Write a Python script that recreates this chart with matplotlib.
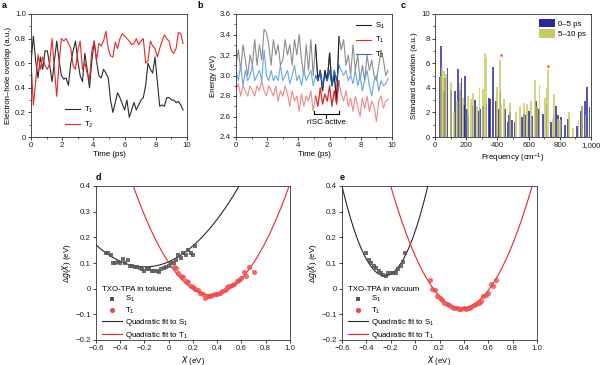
import numpy as np
import matplotlib
matplotlib.use("Agg")
import matplotlib.pyplot as plt
from matplotlib.ticker import MultipleLocator, FuncFormatter

FS = 5.7
plt.rcParams['font.family'] = ['Liberation Sans', 'DejaVu Sans']
plt.rcParams['mathtext.default'] = 'regular'
plt.rcParams['font.size'] = FS
plt.rcParams['axes.linewidth'] = 0.6
plt.rcParams['xtick.major.width'] = 0.6
plt.rcParams['ytick.major.width'] = 0.6
plt.rcParams['xtick.major.size'] = 2.2
plt.rcParams['ytick.major.size'] = 2.2
plt.rcParams['xtick.minor.size'] = 1.3
plt.rcParams['ytick.minor.size'] = 1.3
plt.rcParams['xtick.minor.width'] = 0.5
plt.rcParams['ytick.minor.width'] = 0.5
plt.rcParams['xtick.major.pad'] = 1.5
plt.rcParams['ytick.major.pad'] = 1.5

# ---------------- data ----------------
# panel a (time step 0.15 ps)
a_dt = 0.15
a_T1 = [0.60, 0.82, 0.62, 0.48, 0.65, 0.55, 0.70, 0.70, 0.58, 0.45, 0.62, 0.78, 0.62, 0.50,
        0.47, 0.48, 0.42, 0.60, 0.70, 0.78, 0.62, 0.50, 0.45, 0.68, 0.55, 0.40, 0.62, 0.78,
        0.62, 0.50, 0.48, 0.55, 0.52, 0.48, 0.30, 0.20, 0.28, 0.36, 0.32, 0.27, 0.22, 0.30,
        0.16, 0.22, 0.28, 0.22, 0.26, 0.30, 0.32, 0.42, 0.60, 0.55, 0.52, 0.65, 0.45, 0.25,
        0.26, 0.25, 0.32, 0.32, 0.30, 0.30, 0.28, 0.29, 0.26, 0.22]
a_T2 = [0.62, 0.26, 0.45, 0.67, 0.55, 0.65, 0.58, 0.55, 0.60, 0.80, 0.55, 0.33, 0.60, 0.80,
        0.78, 0.80, 0.76, 0.72, 0.58, 0.55, 0.70, 0.78, 0.55, 0.60, 0.52, 0.47, 0.70, 0.78,
        0.62, 0.76, 0.74, 0.78, 0.86, 0.72, 0.66, 0.65, 0.77, 0.72, 0.80, 0.84, 0.82, 0.80,
        0.78, 0.75, 0.76, 0.80, 0.75, 0.78, 0.80, 0.60, 0.62, 0.78, 0.74, 0.72, 0.65, 0.72,
        0.78, 0.83, 0.80, 0.78, 0.70, 0.68, 0.72, 0.85, 0.84, 0.76]

# panel b (time step 0.15 ps)
b_dt = 0.15
b_S1 = [3.10, 3.25, 3.05, 3.30, 3.15, 3.00, 3.20, 3.10, 3.35, 3.10, 3.30, 3.15, 3.45, 3.42,
        3.30, 3.10, 3.35, 3.20, 3.30, 3.10, 3.15, 3.35, 3.20, 3.30, 3.10, 3.35, 3.20, 3.40,
        3.15, 3.00, 3.30, 3.05, 3.35, 3.00, 3.30, 2.95, 3.05, 2.85, 3.05, 2.95, 3.22, 2.90,
        3.00, 2.75, 3.38, 3.25, 3.35, 3.10, 3.20, 3.00, 3.30, 3.05, 3.20, 2.95, 3.10, 2.95,
        3.20, 3.05, 3.15, 3.00, 2.95, 3.10, 3.25, 3.15, 3.00, 3.05]
b_T2 = [3.05, 2.95, 3.10, 2.90, 3.05, 2.95, 3.00, 3.10, 2.95, 3.00, 3.05, 2.95, 3.25, 3.00,
        2.95, 3.05, 2.95, 3.00, 2.95, 3.10, 2.95, 3.00, 3.05, 2.92, 3.00, 3.10, 2.95, 3.00,
        2.90, 3.05, 2.95, 3.00, 3.05, 2.90, 3.00, 2.95, 3.05, 2.90, 3.00, 2.95, 3.05, 2.90,
        3.05, 2.95, 3.10, 3.05, 3.00, 3.05, 2.95, 3.00, 2.92, 3.05, 2.90, 3.00, 2.85, 2.95,
        3.05, 2.90, 2.80, 2.95, 3.00, 2.85, 2.95, 2.90, 2.92, 2.97]
b_T1 = [2.85, 2.92, 2.80, 2.90, 2.85, 2.80, 2.90, 2.85, 2.80, 2.90, 2.85, 2.95, 2.85, 2.80,
        2.90, 2.85, 2.80, 2.90, 2.75, 2.85, 2.80, 2.90, 2.82, 2.70, 2.85, 2.75, 2.80, 2.65,
        2.82, 2.70, 2.80, 2.75, 2.85, 2.65, 2.80, 2.70, 2.88, 2.72, 2.82, 2.75, 2.90, 2.70,
        2.85, 2.72, 2.95, 2.82, 2.75, 2.85, 2.70, 2.78, 2.65, 2.80, 2.70, 2.60, 2.78, 2.68,
        2.80, 2.65, 2.75, 2.70, 2.55, 2.75, 2.80, 2.68, 2.75, 2.77]
b_active = [5.0, 6.6]

# panel c
c_freq_early = [30, 40, 55, 62, 80, 100, 130, 145, 160, 170, 185, 195, 205, 215, 240, 255, 280,
                290, 310, 330, 345, 355, 370, 390, 405, 412, 420, 450, 465, 472, 480, 495, 510,
                555, 570, 580, 600, 620, 645, 652, 665, 690, 715, 745, 760, 775, 790, 805, 835,
                850, 910, 935, 945, 960, 975, 990]
c_std_early = [4.9, 7.4, 3.7, 4.8, 5.6, 3.7, 3.7, 5.5, 3.8, 4.8, 2.6, 5.0, 2.3, 1.8, 2.5, 3.0,
               2.1, 2.3, 2.5, 2.8, 3.2, 3.1, 5.7, 2.9, 0.1, 2.3, 3.7, 2.3, 1.2, 1.8, 2.0, 1.4,
               1.2, 1.6, 1.9, 1.8, 2.1, 1.7, 2.9, 2.4, 2.3, 1.9, 2.6, 1.2, 1.7, 2.5, 1.8, 1.6,
               1.0, 1.5, 0.9, 2.1, 2.5, 2.9, 4.1, 2.4]
c_freq_late = [35, 45, 60, 70, 100, 120, 140, 160, 180, 210, 230, 245, 270, 285, 310, 320, 330,
               400, 415, 425, 440, 480, 520, 545, 570, 590, 615, 640, 655, 670, 705, 715, 725,
               755, 765, 790, 800, 860, 885, 920, 945, 965]
c_std_late = [5.0, 5.7, 5.4, 5.1, 4.5, 2.0, 2.9, 4.4, 3.2, 3.3, 3.1, 3.6, 2.5, 4.0, 3.9, 6.8,
              6.5, 4.1, 6.3, 2.6, 3.1, 2.8, 2.0, 2.5, 2.8, 2.7, 2.9, 4.6, 2.4, 4.2, 3.2, 4.0,
              5.5, 1.5, 3.5, 1.5, 1.4, 2.0, 0.7, 1.4, 2.5, 1.8]
c_star_x = [420, 725]
c_star_y = [6.7, 5.8]

# panel d (toluene)
d_S1_x = [-0.52, -0.50, -0.48, -0.46, -0.44, -0.42, -0.40, -0.38, -0.36, -0.34, -0.32, -0.30,
          -0.28, -0.26, -0.24, -0.22, -0.20, -0.18, -0.16, -0.14, -0.12, -0.10, -0.08, -0.06,
          -0.04, -0.02, 0.00, 0.02, 0.04, 0.06, 0.08, 0.10, 0.12, 0.14, 0.16, 0.18, 0.20, 0.22]
d_S1_y = [0.14, 0.14, 0.13, 0.10, 0.10, 0.105, 0.10, 0.115, 0.10, 0.11, 0.09, 0.09, 0.085,
          0.085, 0.08, 0.075, 0.07, 0.075, 0.075, 0.07, 0.07, 0.07, 0.065, 0.075, 0.08, 0.085,
          0.09, 0.10, 0.10, 0.11, 0.13, 0.12, 0.14, 0.13, 0.15, 0.14, 0.13, 0.165]
d_T1_x = [0.04, 0.06, 0.08, 0.10, 0.12, 0.14, 0.16, 0.18, 0.20, 0.22, 0.24, 0.26, 0.28, 0.30,
          0.32, 0.34, 0.36, 0.38, 0.40, 0.42, 0.44, 0.46, 0.48, 0.50, 0.52, 0.54, 0.56, 0.58,
          0.60, 0.62, 0.64, 0.66, 0.70]
d_T1_y = [0.085, 0.08, 0.06, 0.05, 0.045, 0.03, 0.025, 0.01, 0.005, 0.0, -0.005, -0.015, -0.02,
          -0.035, -0.03, -0.03, -0.025, -0.02, -0.02, -0.015, -0.01, -0.005, 0.005, 0.01, 0.015,
          0.02, 0.03, 0.035, 0.04, 0.065, 0.05, 0.085, 0.065]
# quadratic fit coefficients (a, b, c) for a*x^2 + b*x + c
d_fit_S1 = [0.523, 0.205, 0.105]
d_fit_T1 = [1.028, -0.7196, 0.1009]

# panel e (vacuum)
e_S1_x = [-0.40, -0.38, -0.36, -0.34, -0.32, -0.30, -0.28, -0.26, -0.24, -0.22, -0.20, -0.18,
          -0.16, -0.14, -0.12, -0.10, -0.08]
e_S1_y = [0.14, 0.11, 0.10, 0.09, 0.08, 0.07, 0.06, 0.055, 0.05, 0.06, 0.06, 0.06, 0.06, 0.075,
          0.09, 0.105, 0.14]
e_T1_x = [0.12, 0.14, 0.16, 0.18, 0.20, 0.22, 0.24, 0.26, 0.28, 0.30, 0.32, 0.34, 0.36, 0.38,
          0.40, 0.42, 0.44, 0.46, 0.48, 0.50, 0.52, 0.54, 0.56, 0.58, 0.60, 0.62, 0.64, 0.66]
e_T1_y = [0.035, 0.0, -0.005, -0.03, -0.035, -0.045, -0.055, -0.06, -0.065, -0.07, -0.075,
          -0.075, -0.078, -0.078, -0.075, -0.078, -0.075, -0.07, -0.065, -0.06, -0.055, -0.05,
          -0.03, -0.025, -0.015, 0.02, 0.01, 0.035]
e_fit_S1 = [2.82, 1.399, 0.2235]
e_fit_T1 = [1.41, -1.0716, 0.1286]

# ---------------- figure ----------------
fig = plt.figure(figsize=(6.0, 3.65), dpi=100)
W, H = 600, 365

def ax_px(x0, x1, y0, y1):
    return fig.add_axes([x0 / W, 1 - y1 / H, (x1 - x0) / W, (y1 - y0) / H])

def style(ax):
    for s in ax.spines.values():
        s.set_color('#333333')
        s.set_linewidth(0.6)
    ax.tick_params(direction='out', which='both', colors='#222222', labelsize=FS)

RED = '#e8262a'
BLK = '#2a2a2a'

# ---- a ----
ax = ax_px(31, 187, 14, 137)
style(ax)
ta = np.arange(len(a_T1)) * a_dt
ax.plot(ta, a_T1, color=BLK, lw=0.8, label='T$_1$')
ax.plot(ta, a_T2, color=RED, lw=0.8, label='T$_2$')
ax.set_xlim(0, 10)
ax.set_ylim(0, 1.0)
ax.xaxis.set_major_locator(MultipleLocator(2))
ax.xaxis.set_minor_locator(MultipleLocator(1))
ax.yaxis.set_major_locator(MultipleLocator(0.2))
ax.yaxis.set_minor_locator(MultipleLocator(0.1))
ax.yaxis.set_major_formatter(FuncFormatter(lambda v, p: '0' if abs(v) < 1e-9 else f'{v:.1f}'))
ax.set_xlabel('Time (ps)', labelpad=1.5)
ax.set_ylabel('Electron–hole overlap (a.u.)', labelpad=2)
ax.legend(loc='lower left', bbox_to_anchor=(0.17, 0.0), frameon=False, fontsize=FS,
          handlelength=1.9, handletextpad=0.5, labelspacing=0.6)

# ---- b ----
ax = ax_px(236, 392, 14, 137)
style(ax)
tb = np.arange(len(b_S1)) * b_dt
m = (tb >= b_active[0] - 0.01) & (tb <= b_active[1] + 0.01)
ax.plot(tb, b_S1, color='#8c8c8c', lw=0.8)
ax.plot(tb, b_T1, color='#f08a8a', lw=0.8)
ax.plot(tb, b_T2, color='#6aa6e6', lw=0.8)
ax.plot(tb[m], np.array(b_S1)[m], color='#222222', lw=0.8)
ax.plot(tb[m], np.array(b_T1)[m], color='#e8262a', lw=0.8)
ax.plot(tb[m], np.array(b_T2)[m], color='#1f5fc0', lw=0.8)
ax.plot([], [], color='#222222', lw=0.8, label='S$_1$')
ax.plot([], [], color='#e8262a', lw=0.8, label='T$_1$')
ax.plot([], [], color='#2a6fd0', lw=0.8, label='T$_2$')
# bracket
yb = 2.62
ax.plot([b_active[0], b_active[0], b_active[1], b_active[1]], [yb + 0.03, yb, yb, yb + 0.03],
        color='k', lw=0.8)
mid = 0.5 * (b_active[0] + b_active[1])
ax.plot([mid, mid], [yb, yb - 0.03], color='k', lw=0.8)
ax.text(mid, 2.545, 'rISC active', ha='center', va='center', fontsize=FS)
ax.set_xlim(0, 10)
ax.set_ylim(2.4, 3.6)
ax.xaxis.set_major_locator(MultipleLocator(2))
ax.xaxis.set_minor_locator(MultipleLocator(1))
ax.yaxis.set_major_locator(MultipleLocator(0.2))
ax.yaxis.set_minor_locator(MultipleLocator(0.1))
ax.yaxis.set_major_formatter(FuncFormatter(lambda v, p: f'{v:.1f}'))
ax.set_xlabel('Time (ps)', labelpad=1.5)
ax.set_ylabel('Energy (eV)', labelpad=2)
ax.legend(loc='upper right', bbox_to_anchor=(1.0, 1.0), frameon=False, fontsize=FS,
          handlelength=1.9, handletextpad=0.5, labelspacing=0.5)

# ---- c ----
ax = ax_px(435, 591, 14, 137)
style(ax)
ax.bar(c_freq_early, c_std_early, width=12, color='#1c1c9a', alpha=0.75, label='0–5 ps', lw=0)
ax.bar(c_freq_late, c_std_late, width=12, color='#c6c65a', alpha=0.75, label='5–10 ps', lw=0)
ax.scatter(c_star_x, c_star_y, marker='*', s=10, color='#ee4444', lw=0, zorder=5)
ax.set_xlim(0, 1000)
ax.set_ylim(0, 10)
ax.xaxis.set_major_locator(MultipleLocator(200))
ax.xaxis.set_minor_locator(MultipleLocator(100))
ax.yaxis.set_major_locator(MultipleLocator(2))
ax.yaxis.set_minor_locator(MultipleLocator(1))
ax.xaxis.set_major_formatter(FuncFormatter(lambda v, p: f'{int(v):,}'))
ax.set_xlabel('Frequency (cm$^{-1}$)', labelpad=1.5)
ax.set_ylabel('Standard deviation (a.u.)', labelpad=2)
leg = ax.legend(loc='upper right', frameon=False, fontsize=FS, handlelength=2.0,
                handleheight=1.3, handletextpad=0.4, labelspacing=0.2, borderaxespad=0.2)
for h in leg.legend_handles:
    h.set_alpha(0.95)

# ---- d & e ----
def panel_de(x0, x1, sx, sy, tx, ty, fs, ft, title):
    ax = ax_px(x0, x1, 186, 340)
    style(ax)
    xx = np.linspace(-0.6, 1.0, 400)
    ax.plot(xx, np.polyval(fs, xx), color=BLK, lw=0.8, zorder=3)
    ax.plot(xx, np.polyval(ft, xx), color=RED, lw=0.8, zorder=3)
    ax.scatter(sx, sy, marker='s', s=9, color='#555555', alpha=0.85, lw=0, zorder=4)
    ax.scatter(tx, ty, marker='o', s=14, color='#f04848', alpha=0.8, lw=0, zorder=4)
    ax.set_xlim(-0.6, 1.0)
    ax.set_ylim(-0.2, 0.4)
    ax.xaxis.set_major_locator(MultipleLocator(0.2))
    ax.yaxis.set_major_locator(MultipleLocator(0.1))
    fmt = lambda v, p: '0' if abs(v) < 1e-9 else (f'{v:.1f}'.replace('-', '\u2212'))
    ax.xaxis.set_major_formatter(FuncFormatter(fmt))
    ax.yaxis.set_major_formatter(FuncFormatter(fmt))
    ax.set_xlabel('$\\it{X}$ (eV)', labelpad=1.0)
    ax.set_ylabel('Δ$\\it{g}$($\\it{X}$) (eV)', labelpad=2)
    hs = [
        ax.scatter([], [], marker='s', s=9, color='#555555', lw=0),
        ax.scatter([], [], marker='o', s=14, color='#f04848', lw=0),
        ax.plot([], [], color=BLK, lw=0.8)[0],
        ax.plot([], [], color=RED, lw=0.8)[0],
    ]
    labs = ['S$_1$', 'T$_1$', 'Quadratic fit to S$_1$', 'Quadratic fit to T$_1$']
    leg = ax.legend(hs, labs, loc='lower left', bbox_to_anchor=(0.0, -0.04), frameon=False,
                    fontsize=FS, title=title, title_fontsize=FS, alignment='left',
                    handlelength=2.6, handletextpad=0.4, labelspacing=0.18, borderaxespad=0.3)
    leg._legend_box.sep = 1
    return ax

panel_de(96, 290, d_S1_x, d_S1_y, d_T1_x, d_T1_y, d_fit_S1, d_fit_T1, 'TXO-TPA in toluene')
panel_de(342, 537, e_S1_x, e_S1_y, e_T1_x, e_T1_y, e_fit_S1, e_fit_T1, 'TXO-TPA in vacuum')

# panel letters
for lab, px, py in [('a', 2, 6), ('b', 197, 6), ('c', 401, 6), ('d', 96, 178), ('e', 340, 178)]:
    fig.text(px / W, 1 - py / H, lab, fontsize=6.5, fontweight='bold', va='center', ha='left')

fig.savefig('out.png', dpi=100)
